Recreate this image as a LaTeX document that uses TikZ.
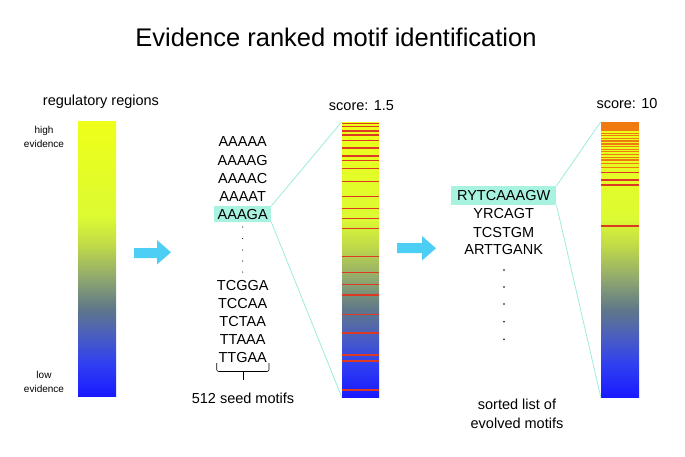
\documentclass[tikz,border=0pt]{standalone}
\usepackage{fontspec}
\setmainfont{Liberation Sans}
\usetikzlibrary{positioning,calc}

\definecolor{seqhl}{HTML}{A8F2E0}
\definecolor{seqline}{HTML}{9CEBDD}
\definecolor{flowarrow}{HTML}{4DCFF5}
\definecolor{hitred}{HTML}{DC3A22}
\definecolor{hitorange}{HTML}{F07A10}
\definecolor{evA}{HTML}{EEFF18}
\definecolor{evB}{HTML}{DCFA33}
\definecolor{evC}{HTML}{C0DA48}
\definecolor{evD}{HTML}{90A86E}
\definecolor{evE}{HTML}{607888}
\definecolor{evF}{HTML}{4A5EC0}
\definecolor{evG}{HTML}{3040F0}
\definecolor{evH}{HTML}{1A1AFF}

\pgfdeclareverticalshading{evidence}{100bp}{color(0bp)=(evH); color(25bp)=(evH); color(31bp)=(evG); color(36bp)=(evF); color(41bp)=(evE); color(46.5bp)=(evD); color(52.5bp)=(evC); color(57.5bp)=(evB); color(75bp)=(evA); color(100bp)=(evA)}

\newcommand{\ttlfont}{\fontsize{25.5}{30}\selectfont}
\newcommand{\lblfont}{\fontsize{14.5}{17}\selectfont}
\newcommand{\smlfont}{\fontsize{10}{12}\selectfont}

\tikzstyle{evbar} = [rectangle, shade, shading=evidence, minimum width=38pt, minimum height=275pt, inner sep=0pt]
\tikzstyle{motif} = [rectangle, font=\lblfont, inner xsep=3.5pt, inner ysep=0pt, minimum height=16pt, text height=10.5pt, text depth=0pt]
\tikzstyle{caption} = [font=\lblfont, anchor=base, inner sep=0pt]
\tikzstyle{scalelbl} = [font=\smlfont, anchor=base, inner sep=0pt]
\tikzstyle{hitline} = [hitred, line width=1.2pt]
\tikzstyle{zoomline} = [seqline, line width=0.8pt]

\begin{document}
\begin{tikzpicture}[x=1pt, y=-1pt, node distance=1.7pt]
	\useasboundingbox (0,0) rectangle (685,456);
	\node[font=\ttlfont, anchor=base] (title) at (336,46) {Evidence ranked motif identification};

	% regulatory regions
	\node[caption] (reglbl) at (101,105) {regulatory regions};
	\node[evbar] (regbar) at (97,258.5) {};
	\node[scalelbl] (hi1) at (44,133) {high};
	\node[scalelbl] (hi2) at (44,147) {evidence};
	\node[scalelbl] (lo1) at (44,378.3) {low};
	\node[scalelbl] (lo2) at (44,392.5) {evidence};

	% arrows
	\fill[flowarrow] (134,248) -- (157,248) -- (157,240) -- (171,252.3) -- (157,264.5) -- (157,258) -- (134,258) -- cycle;
	\fill[flowarrow] (397,243) -- (422,243) -- (422,236) -- (436,248.3) -- (422,260.5) -- (422,253) -- (397,253) -- cycle;

	% seed motifs
	\node[motif] (m1) at (242.7,141.7) {AAAAA};
	\node[motif, below=of m1] (m2) {AAAAG};
	\node[motif, below=of m2] (m3) {AAAAC};
	\node[motif, below=of m3] (m4) {AAAAT};
	\node[motif, fill=seqhl, below=of m4] (m5) {AAAGA};
	\node[motif, below=54.8pt of m5] (m6) {TCGGA};
	\node[motif, below=of m6] (m7) {TCCAA};
	\node[motif, below=of m7] (m8) {TCTAA};
	\node[motif, below=of m8] (m9) {TTAAA};
	\node[motif, below=of m9] (m10) {TTGAA};
	\foreach \y in {227,238.5,250,261,272}
		\fill (242.7,\y) circle (0.55pt);
	\draw[line width=0.6pt, rounded corners=2pt] (216.7,363) -- (216.7,371.5) -- (269,371.5) -- (269,363);
	\draw[line width=0.6pt] (242.8,371.5) -- (242.8,379.5);
	\node[caption] (seedlbl) at (243,403) {512 seed motifs};

	% score 1.5
	\node[caption] (score1) at (361.5,110) {score: 1.5};
	\node[evbar, minimum width=37pt] (midbar) at (360.5,259.5) {};
	\foreach \y in {123.3,126.7,131,135,140.5,148,156,160.3,168.3,181.7,196.7,208.3,218.3,228.7,256.7,272.7,284.3,295,314.7,333,355,361,390}
		\draw[hitline] (midbar.west |- 0,\y) -- (midbar.east |- 0,\y);
	\draw[zoomline] (m5.north east) -- (midbar.north west);
	\draw[zoomline] (m5.south east) -- (midbar.south west);

	% evolved motifs
	\node[motif, fill=seqhl, inner xsep=6pt, minimum height=19pt] (r1) at (503.7,195.5) {RYTCAAAGW};
	\node[motif, below=0.3pt of r1] (r2) {YRCAGT};
	\node[motif, below=of r2] (r3) {TCSTGM};
	\node[motif, below=1.4pt of r3] (r4) {ARTTGANK};
	\foreach \y in {270,287,304,321.7,339.3}
		\fill (504,\y) circle (0.85pt);
	\node[caption] (sortlbl1) at (517,409.5) {sorted list of};
	\node[caption] (sortlbl2) at (517,428) {evolved motifs};

	% score 10
	\node[caption] (score2) at (627,108) {score: 10};
	\node[evbar] (topbar) at (620,259.5) {};
	\fill[hitorange] (topbar.north west) rectangle (topbar.east |- 0,131);
	\foreach \y in {133.3,135.7,138.3,141,144,146.7,149.3,151.7,154.3,157.3,160,163.3,167.7}
		\draw[hitorange, line width=1.5pt] (topbar.west |- 0,\y) -- (topbar.east |- 0,\y);
	\foreach \y in {172.3,180,185,226}
		\draw[hitline] (topbar.west |- 0,\y) -- (topbar.east |- 0,\y);
	\draw[zoomline] (r1.north east) -- (topbar.north west);
	\draw[zoomline] (r1.south east) -- (topbar.south west);
\end{tikzpicture}
\end{document}
